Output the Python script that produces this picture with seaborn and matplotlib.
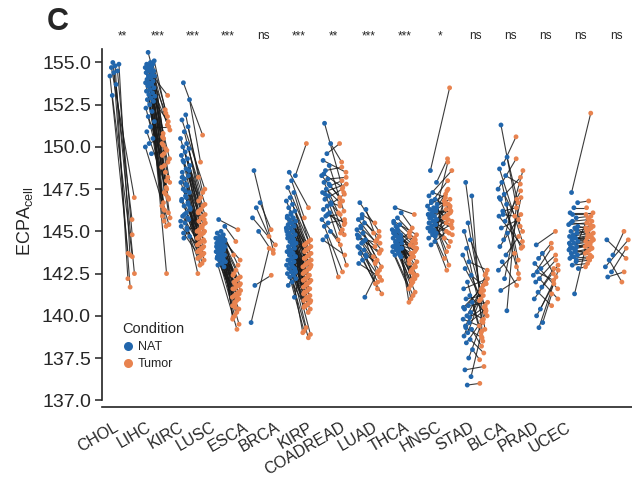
import numpy as np
import pandas as pd
import matplotlib
matplotlib.use("Agg")
import matplotlib.pyplot as plt
import matplotlib.transforms as mtransforms
from matplotlib.collections import LineCollection
import seaborn as sns

# ---------------- data ----------------
cats = ["CHOL", "LIHC", "KIRC", "LUSC", "ESCA", "BRCA", "KIRP", "COADREAD",
        "LUAD", "THCA", "HNSC", "STAD", "BLCA", "PRAD", "UCEC"]
sig = ["**", "***", "***", "***", "ns", "***", "**", "***", "***", "*",
       "ns", "ns", "ns", "ns", "ns"]

chol_nat = [155.0, 154.9, 154.8, 154.7, 154.5, 154.4, 154.2, 153.7, 153.05]
chol_tum = [145.7, 143.6, 142.2, 147.0, 144.8, 141.7, 143.7, 142.5, 143.5]

lihc_nat = [155.6, 155.1, 155.0, 154.9, 154.9, 154.8, 154.7, 154.7, 154.6, 154.5,
            154.5, 154.4, 154.3, 154.2, 154.2, 154.1, 154.0, 153.9, 153.8, 153.8,
            153.7, 153.6, 153.5, 153.4, 153.3, 153.2, 153.1, 153.0, 152.9, 152.8,
            152.7, 152.5, 152.3, 152.1, 151.8, 151.5, 151.2, 150.9, 150.5, 150.2,
            150.0, 149.6]
lihc_tum = [151.3, 152.2, 150.8, 149.3, 151.8, 148.5, 150.1, 147.9, 153.05, 149.9,
            146.7, 151.0, 148.2, 147.2, 150.5, 145.8, 149.1, 152.0, 146.3, 148.8,
            147.0, 145.3, 149.6, 146.5, 151.5, 147.6, 145.6, 150.2, 146.1, 148.0,
            147.3, 149.5, 146.9, 142.5, 148.9, 145.9, 151.2, 147.5, 146.25, 150.6,
            145.4, 149.8]

kirc_nat = [153.8, 152.8, 151.9, 151.6, 151.2, 150.9, 150.5, 150.2, 150.0, 149.9,
            149.7, 149.5, 149.3, 149.1, 148.9, 148.7, 148.5, 148.3, 148.1, 147.9,
            147.7, 147.5, 147.3, 147.1, 146.9, 146.7, 146.5, 146.3, 146.1, 145.9,
            145.7, 145.5, 145.3, 145.1, 144.9, 144.7, 147.8, 148.2, 146.6, 146.0,
            145.6, 145.2, 149.2, 148.6, 147.4, 146.8, 145.8, 144.6, 146.4, 147.0]
kirc_tum = [150.7, 149.1, 148.2, 147.5, 147.3, 147.0, 146.8, 146.6, 146.5, 146.3,
            146.2, 146.0, 145.9, 145.8, 145.6, 145.5, 145.4, 145.3, 145.1, 145.0,
            144.9, 144.8, 144.7, 144.6, 144.5, 144.4, 144.3, 144.2, 144.1, 144.0,
            143.9, 143.8, 143.7, 143.6, 143.5, 143.4, 143.3, 143.1, 143.0, 142.5,
            145.7, 145.2, 144.9, 144.6, 144.4, 144.0, 143.8, 146.1, 145.0, 143.6]

lusc_nat = [145.7, 145.3, 145.0, 144.9, 144.8, 144.7, 144.6, 144.6, 144.5, 144.4,
            144.4, 144.3, 144.2, 144.2, 144.1, 144.0, 144.0, 143.9, 143.8, 143.8,
            143.7, 143.6, 143.6, 143.5, 143.4, 143.4, 143.3, 143.2, 143.1, 143.0,
            142.9, 144.3, 144.1, 143.9, 143.7, 144.5, 144.0, 143.5, 143.3, 144.6]
lusc_tum = [145.1, 144.4, 143.6, 143.3, 143.0, 142.7, 142.5, 142.3, 142.2, 142.1,
            142.0, 141.9, 141.8, 141.7, 141.6, 141.5, 141.4, 141.3, 141.2, 141.1,
            141.0, 140.9, 140.8, 140.6, 140.4, 140.2, 140.0, 139.8, 139.5, 139.2,
            141.9, 141.6, 141.3, 141.0, 140.7, 142.4, 141.8, 141.2, 140.5, 139.9]

esca_nat = [148.6, 146.7, 146.4, 145.8, 145.0, 141.8, 139.6]
esca_tum = [143.9, 145.1, 144.7, 144.2, 143.7, 142.4, 144.0]

brca_nat = [148.5, 148.3, 148.0, 147.6, 147.3, 147.0, 146.8, 146.6, 146.4, 146.2,
            146.0, 145.9, 145.8, 145.7, 145.6, 145.5, 145.4, 145.3, 145.2, 145.1,
            145.0, 144.9, 144.8, 144.7, 144.6, 144.5, 144.4, 144.3, 144.2, 144.1,
            144.0, 143.9, 143.8, 143.7, 143.6, 143.5, 143.4, 143.3, 143.2, 143.1,
            143.0, 142.9, 142.8, 142.7, 142.6, 142.5, 142.4, 142.3, 142.2, 142.0,
            141.8, 141.1, 145.5, 145.0, 144.5, 144.0, 143.5, 143.0, 144.8, 144.2,
            143.6, 145.2, 144.6, 143.8, 142.8, 146.1, 145.8, 144.3, 143.3, 142.6]
brca_tum = [146.4, 150.2, 145.8, 144.5, 144.4, 144.3, 144.2, 144.1, 144.0, 143.9,
            143.8, 143.7, 143.6, 143.5, 143.4, 143.3, 143.2, 143.1, 143.0, 142.9,
            142.8, 142.7, 142.6, 142.5, 142.4, 142.3, 142.2, 142.1, 142.0, 141.9,
            141.8, 141.7, 141.6, 141.5, 141.4, 141.3, 141.2, 141.1, 141.0, 140.9,
            140.8, 140.7, 140.6, 140.5, 140.4, 140.2, 139.3, 139.1, 138.9, 138.7,
            143.9, 143.4, 142.9, 142.4, 141.9, 141.4, 140.9, 143.6, 143.1, 142.6,
            142.1, 141.6, 141.1, 144.2, 143.0, 142.0, 141.0, 140.6, 139.0, 142.8]

kirp_nat = [151.4, 150.2, 149.6, 149.2, 148.9, 148.6, 148.3, 148.1, 147.9, 147.7,
            147.5, 147.3, 147.1, 146.9, 146.7, 146.5, 146.3, 146.1, 145.9, 145.7,
            145.5, 145.3, 145.0, 144.7, 144.5, 147.8, 147.2, 146.6, 146.0, 148.4]
kirp_tum = [147.3, 149.1, 150.2, 148.5, 146.2, 148.8, 147.0, 148.2, 145.4, 148.0,
            146.7, 147.8, 144.8, 147.5, 146.5, 143.0, 147.2, 145.1, 146.0, 144.5,
            145.7, 142.6, 144.2, 142.3, 143.6, 146.8, 144.9, 146.1, 145.5, 147.6]

coad_nat = [146.7, 146.3, 146.0, 145.7, 145.5, 145.3, 145.1, 144.9, 144.7, 144.5,
            144.3, 144.1, 143.9, 143.7, 143.5, 143.3, 143.1, 141.1, 145.2, 144.8,
            144.4, 144.0, 143.6, 145.8, 144.6]
coad_tum = [145.0, 144.5, 145.5, 143.9, 144.7, 143.3, 144.1, 142.9, 143.7, 142.5,
            143.1, 142.1, 142.7, 141.6, 141.9, 141.3, 142.3, 142.6, 144.4, 143.5,
            143.8, 142.0, 143.2, 144.9, 144.3]

luad_nat = [146.4, 146.1, 145.8, 145.6, 145.4, 145.3, 145.1, 145.0, 144.9, 144.8,
            144.7, 144.6, 144.5, 144.4, 144.3, 144.2, 144.1, 144.0, 143.9, 143.8,
            143.7, 143.6, 143.5, 145.2, 144.9, 144.6, 144.3, 144.0, 143.8, 145.0,
            144.7, 144.4, 144.1, 143.9, 144.8, 144.5, 144.2, 145.5, 143.6, 144.0]
luad_tum = [146.0, 145.2, 145.0, 144.8, 144.6, 144.4, 144.2, 144.0, 143.8, 143.6,
            143.4, 143.2, 143.0, 142.8, 142.6, 142.4, 142.2, 142.0, 141.8, 141.6,
            141.4, 141.2, 141.0, 140.8, 144.5, 144.1, 143.7, 143.3, 142.9, 142.5,
            142.1, 144.9, 144.3, 143.5, 142.7, 143.1, 143.9, 142.3, 141.9, 144.7]

thca_nat = [148.6, 147.9, 147.3, 147.1, 146.9, 146.7, 146.5, 146.4, 146.3, 146.2,
            146.1, 146.0, 145.9, 145.8, 145.7, 145.6, 145.5, 145.4, 145.3, 145.2,
            145.1, 145.0, 144.9, 144.8, 144.6, 144.4, 144.2, 146.6, 146.2, 145.8,
            145.4, 145.0, 146.0, 145.6, 145.2, 146.4, 145.9, 145.5, 144.7, 146.8]
thca_tum = [153.5, 149.3, 147.0, 148.6, 146.4, 148.0, 147.2, 145.6, 146.9, 149.1,
            146.7, 145.2, 146.5, 147.5, 146.3, 144.8, 146.1, 146.0, 145.9, 145.8,
            144.4, 145.7, 145.5, 146.8, 145.4, 146.6, 145.0, 144.6, 146.2, 144.1,
            143.8, 143.4, 146.2, 143.0, 142.7, 145.8, 145.4, 144.9, 147.4, 146.6]

hnsc_nat = [147.9, 147.1, 145.5, 145.0, 144.5, 144.0, 143.6, 143.2, 142.8, 142.4,
            142.0, 141.6, 141.2, 141.0, 140.8, 140.6, 140.4, 140.2, 140.0, 139.8,
            139.6, 139.4, 139.2, 139.0, 138.8, 138.6, 138.4, 138.0, 137.5, 136.8,
            136.4, 135.9, 140.5, 139.9, 139.3]
hnsc_tum = [139.2, 138.5, 141.4, 140.0, 142.4, 139.6, 141.0, 142.7, 140.6, 141.8,
            139.0, 142.2, 140.2, 141.2, 138.8, 140.8, 142.0, 139.8, 141.6, 139.4,
            140.4, 141.5, 138.2, 140.9, 142.5, 137.8, 139.7, 137.4, 140.3, 137.0,
            139.1, 136.0, 141.9, 140.5, 138.7]

stad_nat = [151.3, 149.4, 149.0, 148.7, 148.3, 147.9, 147.5, 147.2, 146.9, 146.6,
            146.2, 145.9, 145.6, 145.2, 144.9, 144.5, 144.1, 143.6, 143.2, 142.7,
            142.2, 141.5, 140.3, 146.0, 147.0]
stad_tum = [145.3, 146.7, 150.6, 144.4, 147.8, 143.3, 149.3, 145.0, 148.2, 142.5,
            146.4, 144.1, 147.4, 145.7, 142.9, 148.6, 146.0, 144.7, 141.8, 143.7,
            147.0, 142.2, 146.9, 145.9, 144.0]

blca_nat = [144.2, 143.7, 143.4, 143.1, 142.8, 142.6, 142.4, 142.2, 142.0, 141.7,
            141.4, 141.0, 140.4, 140.0, 139.6, 139.3]
blca_tum = [145.0, 142.5, 144.3, 141.6, 143.6, 142.1, 144.0, 141.0, 143.3, 142.8,
            140.6, 143.0, 142.3, 141.9, 141.3, 142.7]

prad_nat = [147.3, 146.7, 146.4, 146.1, 145.8, 145.6, 145.4, 145.2, 145.0, 144.9,
            144.8, 144.7, 144.6, 144.5, 144.4, 144.3, 144.2, 144.1, 144.0, 143.9,
            143.8, 143.7, 143.6, 143.5, 143.4, 143.2, 143.0, 142.8, 141.3, 145.5,
            145.1, 144.7, 144.3, 143.9, 143.5, 145.3, 144.6, 144.0, 143.3, 146.0]
prad_tum = [152.0, 146.8, 146.4, 146.1, 145.9, 145.7, 145.5, 145.3, 145.2, 145.1,
            145.0, 144.9, 144.8, 144.7, 144.6, 144.5, 144.4, 144.3, 144.2, 144.1,
            144.0, 143.9, 143.8, 143.7, 143.5, 143.3, 143.1, 142.9, 145.6, 145.4,
            144.8, 144.4, 144.0, 143.6, 145.8, 145.2, 144.6, 144.2, 143.4, 146.0]

ucec_nat = [144.5, 143.6, 143.3, 142.9, 142.6, 142.3]
ucec_tum = [143.4, 145.0, 142.0, 144.5, 144.0, 142.6]

nat_lists = [chol_nat, lihc_nat, kirc_nat, lusc_nat, esca_nat, brca_nat, kirp_nat,
             coad_nat, luad_nat, thca_nat, hnsc_nat, stad_nat, blca_nat, prad_nat, ucec_nat]
tum_lists = [chol_tum, lihc_tum, kirc_tum, lusc_tum, esca_tum, brca_tum, kirp_tum,
             coad_tum, luad_tum, thca_tum, hnsc_tum, stad_tum, blca_tum, prad_tum, ucec_tum]

y_ticks = [135.0, 137.5, 140.0, 142.5, 145.0, 147.5, 150.0, 152.5, 155.0]
y_ticklabels = ["137.0", "137.5", "140.0", "142.5", "145.0", "147.5", "150.0", "152.5", "155.0"]

NAT_COLOR = "#2166AC"
TUM_COLOR = "#E8834F"

# ---------------- build table ----------------
rows = []
for ci, (cat, nat, tum) in enumerate(zip(cats, nat_lists, tum_lists)):
    n = min(len(nat), len(tum))
    idx = np.arange(n)
    jn = (idx * 0.618034 + 0.31) % 1 - 0.5
    jt = (idx * 0.754878 + 0.67) % 1 - 0.5
    for i in range(n):
        rows.append(dict(cancer=cat, Condition="NAT", value=nat[i], pair=i,
                         xpos=ci - 0.21 + 0.28 * jn[i]))
        rows.append(dict(cancer=cat, Condition="Tumor", value=tum[i], pair=i,
                         xpos=ci + 0.24 + 0.24 * jt[i]))
df = pd.DataFrame(rows)

# ---------------- plot ----------------
sns.set_style("ticks")
plt.rcParams["font.family"] = ["Liberation Sans", "DejaVu Sans"]
plt.rcParams["mathtext.fontset"] = "custom"
plt.rcParams["mathtext.rm"] = "Liberation Sans"
plt.rcParams["mathtext.it"] = "Liberation Sans:italic"
plt.rcParams["mathtext.bf"] = "Liberation Sans:bold"

fig = plt.figure(figsize=(6.32, 4.83), dpi=100)
ax = fig.add_axes([0.1614, 0.1573, 0.8386, 0.7413])

# connecting lines
wide = df.pivot_table(index=["cancer", "pair"], columns="Condition",
                      values=["xpos", "value"], aggfunc="first")
segs = [[(r[("xpos", "NAT")], r[("value", "NAT")]),
         (r[("xpos", "Tumor")], r[("value", "Tumor")])] for _, r in wide.iterrows()]
lc = LineCollection(segs, colors="#1a1a1a", linewidths=0.8, alpha=0.85, zorder=1)
ax.add_collection(lc)

sns.scatterplot(data=df, x="xpos", y="value", hue="Condition",
                palette={"NAT": NAT_COLOR, "Tumor": TUM_COLOR},
                s=12, linewidth=0, ax=ax, zorder=3)

ax.set_xlim(-0.57, 14.45)
ax.set_ylim(134.6, 155.8)
ax.set_xlabel("")
ax.set_ylabel(r"ECPA$_{\mathregular{cell}}$", fontsize=13)
ax.yaxis.set_label_coords(-0.127, 0.52)

ax.set_yticks(y_ticks)
ax.set_yticklabels(y_ticklabels, fontsize=14)
ax.tick_params(axis="y", length=5, width=1.1, pad=3, color="#222222")

tickpos = np.arange(len(cats)) * 0.915 - 0.23
ax.set_xticks(tickpos)
ax.set_xticklabels(cats, rotation=30, ha="right", va="top",
                   rotation_mode="anchor", fontsize=11.5)
ax.tick_params(axis="x", length=0, pad=9)

for s in ["top", "right"]:
    ax.spines[s].set_visible(False)
ax.spines["left"].set_bounds(135.0, 155.8)
for s in ["left", "bottom"]:
    ax.spines[s].set_linewidth(1.2)
    ax.spines[s].set_color("#222222")

# significance labels
trans = mtransforms.blended_transform_factory(ax.transData, ax.transAxes)
for ci, lab in enumerate(sig):
    ax.text(ci, 1.028, lab, transform=trans, ha="center", va="baseline",
            fontsize=8.5, clip_on=False)

# legend
handles, labels = ax.get_legend_handles_labels()
for h in handles:
    h.set_markersize(6.5)
ax.legend(handles, labels, title="Condition", loc="upper left",
          bbox_to_anchor=(0.028, 0.252), frameon=False, fontsize=9,
          title_fontsize=10.5, handletextpad=0.3, handlelength=1.0,
          labelspacing=0.42, borderaxespad=0, alignment="left")

fig.text(0.074, 0.954, "C", fontsize=22, fontweight="bold", va="center", ha="left")

fig.savefig("out.png", dpi=100)
